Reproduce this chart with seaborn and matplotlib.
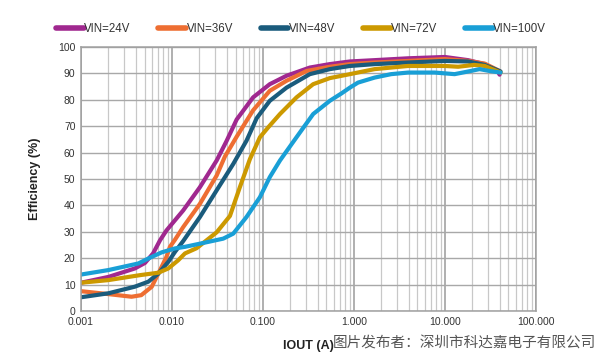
import matplotlib
matplotlib.use('Agg')
import matplotlib.pyplot as plt
import matplotlib.ticker as mticker
import seaborn as sns
import pandas as pd

sns.set_style('white')
plt.rcParams['font.family'] = ['Liberation Sans', 'DejaVu Sans']

# efficiency curves
iout_24 = [0.001, 0.002, 0.0039, 0.00505, 0.0062, 0.0074, 0.0087, 0.0133,
           0.0203, 0.031, 0.04, 0.0514, 0.078, 0.119, 0.182, 0.328, 0.544,
           0.904, 1.69, 3.94, 10, 18, 27.4, 38, 40]
eff_24 = [10.7, 12.9, 16.1, 18.2, 21.8, 26.8, 30.5, 38.1,
          46.9, 57.0, 64.5, 72.5, 80.9, 85.9, 89.1, 92.2, 93.5,
          94.5, 95.0, 95.7, 96.2, 95.0, 93.5, 90.9, 89.5]

iout_36 = [0.001, 0.002, 0.0036, 0.0046, 0.006, 0.0074, 0.0087, 0.0095,
           0.0108, 0.0133, 0.0203, 0.031, 0.0382, 0.0514, 0.066, 0.078,
           0.119, 0.182, 0.302, 0.544, 0.904, 1.69, 3.94, 10, 18, 27.4, 40]
eff_36 = [7.5, 6.4, 5.4, 6.0, 9.2, 15.5, 20.5, 24.3,
          27.0, 31.8, 40.6, 51.3, 58.5, 66.0, 72.0, 76.0,
          83.4, 87.2, 90.9, 92.5, 93.5, 94.1, 94.7, 95.4, 94.7, 93.7, 90.9]

iout_48 = [0.001, 0.002, 0.0039, 0.0055, 0.0071, 0.0091, 0.0108, 0.0133,
           0.0203, 0.031, 0.0472, 0.066, 0.078, 0.0853, 0.119, 0.182,
           0.328, 0.544, 0.904, 1.69, 3.94, 10, 18, 27.4, 41]
eff_48 = [5.2, 6.7, 9.2, 11.1, 14.2, 18.6, 22.4, 26.5,
          35.6, 45.7, 55.7, 64.5, 70.0, 73.0, 79.6, 84.6,
          89.7, 91.6, 92.8, 93.5, 94.1, 94.7, 94.5, 93.2, 90.7]

iout_72 = [0.001, 0.002, 0.0045, 0.0071, 0.0091, 0.0117, 0.0139, 0.0187,
           0.031, 0.0434, 0.0558, 0.0719, 0.0927, 0.114, 0.154, 0.234,
           0.357, 0.544, 0.904, 1.69, 3.94, 10, 14, 21, 27.4, 41]
eff_72 = [10.7, 11.7, 13.6, 14.5, 16.1, 19.2, 21.8, 23.8,
          29.8, 36.0, 46.9, 57.5, 65.8, 69.5, 74.6, 80.9,
          85.9, 88.2, 89.7, 91.6, 92.8, 92.8, 92.5, 93.2, 92.8, 90.3]

iout_100 = [0.001, 0.002, 0.00427, 0.006, 0.0077, 0.0108, 0.0139, 0.0203,
            0.0366, 0.0472, 0.066, 0.0927, 0.119, 0.154, 0.234, 0.357,
            0.544, 0.73, 0.904, 1.11, 1.69, 2.57, 3.94, 7.73, 12.8, 18,
            24.1, 31, 41]
eff_100 = [13.8, 15.5, 18.0, 20.5, 22.2, 23.7, 24.3, 25.5,
           27.4, 29.3, 35.6, 43.1, 50.7, 57.0, 65.8, 74.6,
           79.6, 82.4, 84.6, 86.5, 88.4, 89.7, 90.3, 90.3, 89.7, 90.7,
           91.6, 90.9, 90.3]

labels = ['VIN=24V', 'VIN=36V', 'VIN=48V', 'VIN=72V', 'VIN=100V']
colors = ['#A0288F', '#EE6E32', '#1A5B7C', '#CC9900', '#199FD6']
x_ticks = [0.001, 0.01, 0.1, 1, 10, 100]
x_ticklabels = ['0.001', '0.010', '0.100', '1.000', '10.000', '100.000']

frames = []
for lab, xs, ys in zip(labels,
                       [iout_24, iout_36, iout_48, iout_72, iout_100],
                       [eff_24, eff_36, eff_48, eff_72, eff_100]):
    frames.append(pd.DataFrame({'iout': xs, 'eff': ys, 'vin': lab}))
df = pd.concat(frames, ignore_index=True)

fig = plt.figure(figsize=(6.0, 3.53), dpi=100)
ax = fig.add_axes([0.135, 0.119, 0.758, 0.748])

sns.lineplot(data=df, x='iout', y='eff', hue='vin', hue_order=labels,
             palette=colors, linewidth=3.0, sort=False, estimator=None,
             ax=ax, legend=True, solid_capstyle='round')

ax.set_xscale('log')
ax.set_xlim(0.001, 100)
ax.set_ylim(0, 100)
ax.set_yticks(range(0, 101, 10))
ax.set_xticks(x_ticks)
ax.set_xticklabels(x_ticklabels)
ax.xaxis.set_minor_locator(mticker.LogLocator(base=10, subs=range(2, 10)))
ax.xaxis.set_minor_formatter(mticker.NullFormatter())
ax.grid(which='major', axis='x', color='#9a9a9a', linewidth=1.1)
ax.grid(which='minor', axis='x', color='#c8c8c8', linewidth=0.9)
ax.grid(which='major', axis='y', color='#a8a8a8', linewidth=1.0)
ax.set_axisbelow(True)
for s in ax.spines.values():
    s.set_color('#a0a0a0')
    s.set_linewidth(1.1)
ax.tick_params(which='both', length=0, labelsize=7.5, colors='#333333',
               pad=4)

ax.set_ylabel('Efficiency (%)', fontsize=9, fontweight='bold',
              color='#222222', labelpad=12)
ax.set_xlabel('IOUT (A)', fontsize=9, fontweight='bold', color='#222222',
              labelpad=10)

handles, lbls = ax.get_legend_handles_labels()
ax.get_legend().remove()
leg = fig.legend(handles, lbls, loc='center', bbox_to_anchor=(0.502, 0.918),
                 ncol=5, frameon=False, fontsize=8.3, handlelength=2.4,
                 handletextpad=0.05, columnspacing=2.4)
for line in leg.get_lines():
    line.set_linewidth(4)
for t in leg.get_texts():
    t.set_color('#333333')

fig.text(0.993, 0.028, '图片发布者：深圳市科达嘉电子有限公司', ha='right',
         va='center', fontsize=10.5, color='#555555',
         family=['Noto Sans CJK SC', 'DejaVu Sans'])

fig.savefig('out.png', dpi=100)
